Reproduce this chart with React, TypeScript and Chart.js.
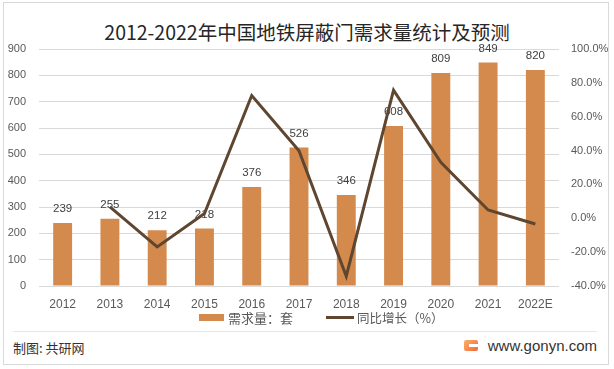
import React, { useEffect, useRef } from "react";
import { Chart, registerables } from "chart.js";

Chart.register(...registerables);

const years = ["2012", "2013", "2014", "2015", "2016", "2017", "2018", "2019", "2020", "2021", "2022E"];
const demand = [239, 255, 212, 218, 376, 526, 346, 608, 809, 849, 820];
const growth = [null, 6.7, -16.9, 2.8, 72.5, 39.9, -34.2, 75.7, 33.1, 4.9, -3.4];
const leftTicks = [0, 100, 200, 300, 400, 500, 600, 700, 800, 900];
const rightTicks = [-40, -20, 0, 20, 40, 60, 80, 100];
const titleText = "2012-2022年中国地铁屏蔽门需求量统计及预测";
const barName = "需求量：套";
const lineName = "同比增长（%）";

const BAR = "#D48A4C";
const LINE = "#5E4630";
const TICK = "#595959";

const barLabels = {
  id: "barLabels",
  afterDatasetDraw(chart: any, args: any) {
    if (args.index !== 0) return;
    const ctx = chart.ctx;
    ctx.save();
    ctx.font = '11.5px "Liberation Sans"';
    ctx.fillStyle = "#404040";
    ctx.textAlign = "center";
    ctx.textBaseline = "middle";
    args.meta.data.forEach((el: any, i: number) => {
      ctx.fillText(String(demand[i]), el.x, el.y - 14);
    });
    ctx.restore();
  },
};

export default function App() {
  const ref = useRef<HTMLCanvasElement>(null);
  useEffect(() => {
    if (!ref.current) return;
    const chart = new Chart(ref.current, {
      type: "bar",
      data: {
        labels: years,
        datasets: [
          {
            type: "bar",
            label: barName,
            data: demand,
            backgroundColor: BAR,
            barPercentage: 0.4,
            categoryPercentage: 1,
            yAxisID: "y",
            order: 2,
          } as any,
          {
            type: "line",
            label: lineName,
            data: growth,
            borderColor: LINE,
            backgroundColor: LINE,
            borderWidth: 3,
            pointRadius: 0,
            tension: 0,
            yAxisID: "y1",
            order: 1,
          } as any,
        ],
      },
      options: {
        animation: false,
        responsive: false,
        devicePixelRatio: 1,
        layout: { padding: { top: 49, left: 0, right: 0, bottom: 0 } },
        scales: {
          x: {
            offset: true,
            grid: { display: false, drawTicks: false },
            border: { display: false },
            ticks: { color: TICK, font: { size: 12, family: "Liberation Sans" }, padding: 11, maxRotation: 0, autoSkip: false },
            afterFit: (s: any) => { s.height = 34; },
          },
          y: {
            position: "left",
            min: 0,
            max: 900,
            afterBuildTicks: (s: any) => { s.ticks = leftTicks.map((v) => ({ value: v })); },
            grid: { color: "#d9d9d9", drawTicks: false, lineWidth: 1 },
            border: { display: false },
            ticks: { color: TICK, font: { size: 11, family: "Liberation Sans" }, padding: 13 },
            afterFit: (s: any) => { s.width = 39; },
          },
          y1: {
            position: "right",
            min: -40,
            max: 100,
            afterBuildTicks: (s: any) => { s.ticks = rightTicks.map((v) => ({ value: v })); },
            grid: { display: false, drawTicks: false },
            border: { display: false },
            ticks: {
              color: TICK,
              font: { size: 11, family: "Liberation Sans" },
              padding: 12,
              callback: (v: any) => Number(v).toFixed(1) + "%",
            },
            afterFit: (s: any) => { s.width = 55; },
          },
        },
        plugins: {
          title: { display: false },
          tooltip: { enabled: false },
          legend: { display: false },
        },
      } as any,
      plugins: [barLabels],
    });
    return () => chart.destroy();
  }, []);

  const legendText = { font: '13px "Noto Sans CJK SC"', lineHeight: "18px", color: TICK, whiteSpace: "nowrap" as const };

  return (
    <div style={{ position: "absolute", left: 0, top: 0, width: 614, height: 369, background: "#fff", overflow: "hidden" }}>
      <div style={{ position: "absolute", left: 3, top: 2, width: 606, height: 363, border: "1px solid #d9d9d9", boxSizing: "border-box" }} />
      <div style={{ position: "absolute", left: 0, top: 20, width: 614, textAlign: "center", font: '19.5px "Noto Sans CJK SC"', lineHeight: "24px", color: "#262626", whiteSpace: "nowrap" }}>
        {titleText}
      </div>
      <canvas ref={ref} width={614} height={320} style={{ position: "absolute", left: 0, top: 0, width: 614, height: 320 }} />
      <div style={{ position: "absolute", left: 199, top: 314, width: 25, height: 7, background: BAR }} />
      <div style={{ position: "absolute", left: 228, top: 309, ...legendText }}>{barName}</div>
      <div style={{ position: "absolute", left: 326, top: 316, width: 28, height: 3, background: LINE }} />
      <div style={{ position: "absolute", left: 357, top: 309, ...legendText, fontSize: 12.5 }}>{lineName}</div>
      <div style={{ position: "absolute", left: 13, top: 331, width: 584, height: 1, background: "#e6e6e6" }} />
      <div style={{ position: "absolute", left: 13, top: 338, font: '13px "Noto Sans CJK SC"', lineHeight: "20px", color: "#333" }}>制图: 共研网</div>
      <div style={{ position: "absolute", left: 464, top: 340, width: 14, height: 11, borderRadius: 2, background: "linear-gradient(135deg, #f9b36a, #f2663a)" }}>
        <div style={{ position: "absolute", left: 5, top: 4, width: 9, height: 3, background: "#fff" }} />
      </div>
      <div style={{ position: "absolute", right: 17, top: 336, font: '15px "Liberation Sans"', lineHeight: "20px", color: "#333" }}>www.gonyn.com</div>
    </div>
  );
}
